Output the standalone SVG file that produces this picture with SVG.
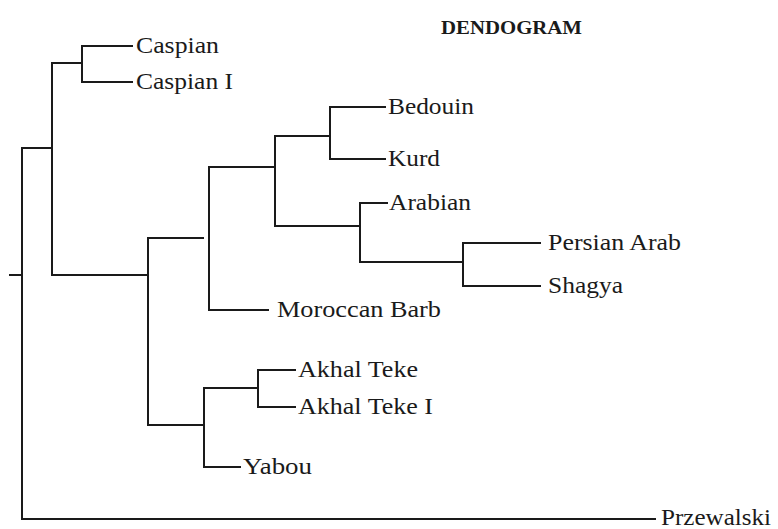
<svg xmlns="http://www.w3.org/2000/svg" width="778" height="529" viewBox="0 0 778 529">
<style>
.e{fill:none;stroke:#1a1a1a;stroke-width:2;stroke-linecap:square}
.t{font-family:"Liberation Serif","Times New Roman",serif;font-size:23px;fill:#1a1a1a}
.h{font-family:"Liberation Serif","Times New Roman",serif;font-size:19px;font-weight:bold;fill:#1a1a1a}
</style>
<rect width="778" height="529" fill="#fff"/>
<text class="h" x="441" y="34" textLength="141" lengthAdjust="spacingAndGlyphs">DENDOGRAM</text>
<g id="connectors">
<path class="e" d="M10,275H22M22,148V519M22,148H52M52,63V275M52,63H82M82,46V82M82,46H132M82,82H132"/>
<path class="e" d="M52,275H148M148,238V425M148,238H203M209,167V310M209,167H275M275,136V226M275,136H330M330,107V159M330,107H385M330,159H385"/>
<path class="e" d="M275,226H360M360,203V262M360,203H387M360,262H463M463,243V286M463,243H540M463,286H540M209,310H268"/>
<path class="e" d="M148,425H204M204,388V467M204,388H258M258,370V407M258,370H295M258,407H295M204,467H240M22,519H655"/>
</g>
<g id="caspian"><text class="t" x="136" y="53" textLength="83" lengthAdjust="spacingAndGlyphs">Caspian</text></g>
<g id="caspian-i"><text class="t" x="136" y="89" textLength="97" lengthAdjust="spacingAndGlyphs">Caspian I</text></g>
<g id="bedouin"><text class="t" x="388" y="114" textLength="86" lengthAdjust="spacingAndGlyphs">Bedouin</text></g>
<g id="kurd"><text class="t" x="388" y="166" textLength="52" lengthAdjust="spacingAndGlyphs">Kurd</text></g>
<g id="arabian"><text class="t" x="389" y="210" textLength="82" lengthAdjust="spacingAndGlyphs">Arabian</text></g>
<g id="persian-arab"><text class="t" x="548" y="250" textLength="133" lengthAdjust="spacingAndGlyphs">Persian Arab</text></g>
<g id="shagya"><text class="t" x="548" y="293" textLength="75" lengthAdjust="spacingAndGlyphs">Shagya</text></g>
<g id="moroccan-barb"><text class="t" x="277" y="317" textLength="164" lengthAdjust="spacingAndGlyphs">Moroccan Barb</text></g>
<g id="akhal-teke"><text class="t" x="298" y="377" textLength="120" lengthAdjust="spacingAndGlyphs">Akhal Teke</text></g>
<g id="akhal-teke-i"><text class="t" x="298" y="414" textLength="135" lengthAdjust="spacingAndGlyphs">Akhal Teke I</text></g>
<g id="yabou"><text class="t" x="243" y="474" textLength="69" lengthAdjust="spacingAndGlyphs">Yabou</text></g>
<g id="przewalski"><text class="t" x="661" y="525" textLength="110" lengthAdjust="spacingAndGlyphs">Przewalski</text></g>
</svg>
